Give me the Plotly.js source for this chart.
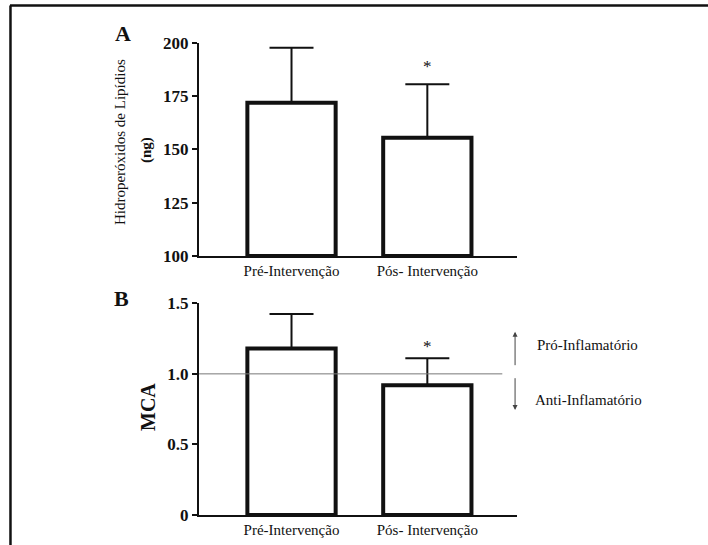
<!DOCTYPE html>
<html>
<head>
<meta charset="utf-8">
<script src="https://cdn.plot.ly/plotly-3.0.1.min.js"></script>
<style>html,body{margin:0;padding:0;background:#fff;}#chart{width:708px;height:545px;}</style>
</head>
<body>
<div id="chart"></div>
<script>
// ---- data ----
const categories = ["Pré-Intervenção", "Pós- Intervenção"];
const lipidMeans = [172, 155.5];          // Panel A: Hidroperóxidos de Lipídios (ng)
const lipidErrUp = [25.8, 25.1];          // upper SD
const mcaMeans = [1.18, 0.92];            // Panel B: MCA
const mcaErrUp = [0.244, 0.19];
const significant = [false, true];
const mcaThreshold = 1.0;
const lipidTicks = [100, 125, 150, 175, 200];
const mcaTickVals = [0, 0.5, 1.0, 1.5];
const mcaTickText = ["0", "0.5", "1.0", "1.5"];

const serif = "Liberation Serif";
const xIdx = categories.map((c, i) => i);

const barStyle = {
  type: "bar",
  width: 0.65,
  marker: { color: "#ffffff", line: { color: "#111111", width: 4 } },
  hoverinfo: "skip",
  showlegend: false
};

const traceA = Object.assign({}, barStyle, {
  x: xIdx, y: lipidMeans.map(v => v - 100), base: 100,
  xaxis: "x", yaxis: "y",
  error_y: { type: "data", symmetric: false, array: lipidErrUp, arrayminus: lipidErrUp.map(() => 0),
             color: "#111111", thickness: 2, width: 22 }
});
const traceB = Object.assign({}, barStyle, {
  x: xIdx, y: mcaMeans,
  xaxis: "x2", yaxis: "y2",
  error_y: { type: "data", symmetric: false, array: mcaErrUp, arrayminus: mcaErrUp.map(() => 0),
             color: "#111111", thickness: 2, width: 22 }
});

const xRange = [-0.681, 1.658];
const xDomain = [0.2811, 0.7298];

function xAxis() {
  return {
    domain: xDomain, range: xRange, showgrid: false, zeroline: false,
    showline: true, linecolor: "#111111", linewidth: 2,
    ticks: "", tickvals: xIdx, ticktext: categories,
    tickfont: { family: serif, size: 15, color: "#111111" },
    fixedrange: true
  };
}
function yAxis(extra) {
  return Object.assign({
    showgrid: false, zeroline: false, showline: true, linecolor: "#111111", linewidth: 2,
    ticks: "outside", ticklen: 5, tickwidth: 2, tickcolor: "#111111",
    tickfont: { family: serif, size: 17, color: "#111111", weight: "bold" },
    fixedrange: true
  }, extra);
}

function label(text, x, y, size, extra) {
  return Object.assign({ text: text, xref: "paper", yref: "paper", x: x, y: y,
    xanchor: "center", yanchor: "middle", showarrow: false,
    font: { family: serif, size: size, color: "#111" } }, extra || {});
}

const annotations = [
  label("<b>A</b>", 0.1737, 0.9394, 22),
  label("<b>B</b>", 0.1723, 0.4514, 22),
  label("Hidroperóxidos de Lipídios", 0.1695, 0.7394, 15, { textangle: -90 }),
  label("<b>(ng)</b>", 0.2076, 0.7248, 15, { textangle: -90 }),
  label("<b>MCA</b>", 0.209, 0.2532, 20, { textangle: -90 }),
  label("Pró-Inflamatório", 0.7556, 0.367, 15, { xanchor: "left" }),
  label("Anti-Inflamatório", 0.7528, 0.266, 15, { xanchor: "left" }),
  // arrows
  { text: "", xref: "x2", yref: "y2", axref: "x2", ayref: "y2",
    x: 1.646, y: mcaThreshold + 0.299, ax: 1.646, ay: mcaThreshold + 0.051,
    showarrow: true, arrowhead: 2, arrowsize: 1, arrowwidth: 1, arrowcolor: "#444" },
  { text: "", xref: "x2", yref: "y2", axref: "x2", ayref: "y2",
    x: 1.646, y: mcaThreshold - 0.256, ax: 1.646, ay: mcaThreshold - 0.02,
    showarrow: true, arrowhead: 2, arrowsize: 1, arrowwidth: 1, arrowcolor: "#444" }
];
// significance stars
significant.forEach((s, i) => {
  if (!s) return;
  annotations.push({ text: "*", xref: "x", yref: "y", x: i, y: lipidMeans[i] + lipidErrUp[i],
    yshift: 18, showarrow: false, font: { family: serif, size: 17, color: "#111" } });
  annotations.push({ text: "*", xref: "x2", yref: "y2", x: i, y: mcaMeans[i] + mcaErrUp[i],
    yshift: 12, showarrow: false, font: { family: serif, size: 17, color: "#111" } });
});

const layout = {
  width: 708, height: 545,
  margin: { l: 0, r: 0, t: 0, b: 0 },
  paper_bgcolor: "#ffffff", plot_bgcolor: "rgba(0,0,0,0)",
  font: { family: serif },
  showlegend: false,
  xaxis: xAxis(),
  xaxis2: Object.assign(xAxis(), { anchor: "y2" }),
  yaxis: yAxis({ domain: [0.5303, 0.9211], range: [100, 200], tickvals: lipidTicks, anchor: "x" }),
  yaxis2: yAxis({ domain: [0.0550, 0.4435], range: [0, 1.5], tickvals: mcaTickVals, ticktext: mcaTickText, anchor: "x2" }),
  annotations: annotations,
  shapes: [
    { type: "line", xref: "x2", yref: "y2", x0: xRange[0], x1: 1.552, y0: mcaThreshold, y1: mcaThreshold,
      line: { color: "#777777", width: 1 }, layer: "above" },
    { type: "line", xref: "paper", yref: "paper", x0: 0.0141, x1: 1, y0: 0.9899, y1: 0.9899,
      line: { color: "#111111", width: 2.5 } },
    { type: "line", xref: "paper", yref: "paper", x0: 0.0148, x1: 0.0148, y0: 0, y1: 0.9899,
      line: { color: "#111111", width: 2.5 } }
  ]
};

Plotly.newPlot("chart", [traceA, traceB], layout, { displayModeBar: false, staticPlot: true });
</script>
</body>
</html>
